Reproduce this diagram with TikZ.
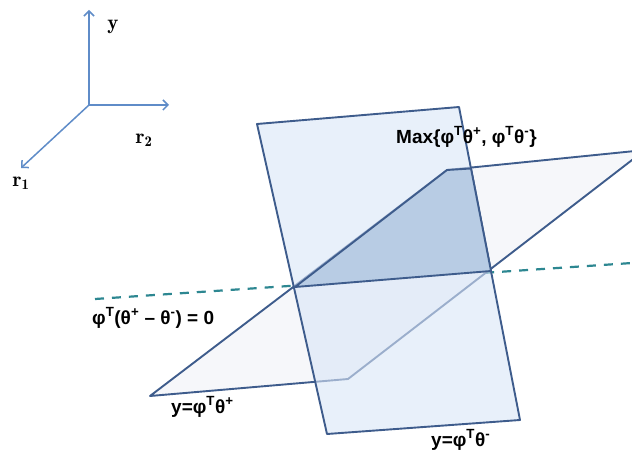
\documentclass[tikz,border=0pt]{standalone}
\usepackage{fontspec}
\newfontfamily\labelfont{Liberation Sans}
\usetikzlibrary{arrows.meta}
\definecolor{PlaneNavy}{RGB}{62,92,140}
\definecolor{AxisBlue}{RGB}{95,140,200}
\definecolor{DashTeal}{RGB}{45,135,145}
\definecolor{PlaneBlue}{RGB}{217,230,247}
\definecolor{PlaneGray}{RGB}{246,247,250}
\definecolor{MaxShade}{RGB}{184,204,228}

\begin{document}
\begin{tikzpicture}[x=1bp,y=-1bp,line cap=round,line join=round]
  \path[use as bounding box] (0,0) rectangle (632,455);
  \fill[white] (0,0) rectangle (632,455);
  \clip (0,0) rectangle (632,455);

  \tikzset{
    axis/.style={-{Straight Barb[length=5bp,width=10bp]},line width=1.5bp,AxisBlue},
    axislabel/.style={inner sep=0pt,font=\fontsize{21bp}{21bp}\selectfont},
    edge/.style={line width=1.9bp,draw=PlaneNavy},
    tag/.style={anchor=west,inner sep=0pt,
      font=\labelfont\fontsize{19bp}{19bp}\selectfont\bfseries},
  }

  % axes
  \coordinate (O) at (89,105);
  \coordinate (Ytip) at (89,10);
  \coordinate (Rtwotip) at (169,105);
  \coordinate (Ronetip) at (21,168);
  \draw[axis] (O) -- (Ytip);
  \draw[axis] (O) -- (Rtwotip);
  \draw[axis] (O) -- (Ronetip);
  \node[axislabel] (ylabel) at (113,27) {$\mathbf{y}$};
  \node[axislabel] (rtwolabel) at (144,140) {$\mathbf{r}_{\mathbf{2}}$};
  \node[axislabel] (ronelabel) at (21,183) {$\mathbf{r}_{\mathbf{1}}$};

  % plane corners and crossings
  \coordinate (V1) at (257,124);
  \coordinate (V2) at (459,107);
  \coordinate (V3) at (520,420);
  \coordinate (V4) at (327,434);
  \coordinate (H1) at (150,396);
  \coordinate (H2) at (348,379);
  \coordinate (H3) at (645,150);
  \coordinate (H4) at (447,170);
  \coordinate (P) at (295,287);
  \coordinate (Q) at (491,271);
  \coordinate (R) at (471,168.5);

  % dashed boundary
  \draw[DashTeal,line width=2.2bp,dash pattern=on 9bp off 8bp,line cap=butt]
    (95,299) -- (632,263);

  % y = phi^T theta^+
  \fill[PlaneGray] (H1) -- (H2) -- (H3) -- (H4) -- cycle;
  \draw[edge] (H1) -- (H2) -- (H3) -- (H4) -- cycle;

  % y = phi^T theta^-
  \fill[PlaneBlue,fill opacity=0.6] (V1) -- (V2) -- (V3) -- (V4) -- cycle;
  \draw[edge] (V1) -- (V2) -- (V3) -- (V4) -- cycle;

  % max region
  \fill[MaxShade] (P) -- (H4) -- (R) -- (Q) -- cycle;
  \draw[edge] (R) -- (H4) -- (P) -- (Q) -- (R);

  % labels
  \node[tag] (maxlabel) at (396,137)
    {Max\{φ\textsuperscript{T}θ\textsuperscript{+}, φ\textsuperscript{T}θ\textsuperscript{-}\}};
  \node[tag] (zerolabel) at (92,318)
    {φ\textsuperscript{T}(θ\textsuperscript{+} – θ\textsuperscript{-}) = 0};
  \node[tag] (pluslabel) at (171,407) {y=φ\textsuperscript{T}θ\textsuperscript{+}};
  \node[tag] (minuslabel) at (431,440) {y=φ\textsuperscript{T}θ\textsuperscript{-}};
\end{tikzpicture}
\end{document}
